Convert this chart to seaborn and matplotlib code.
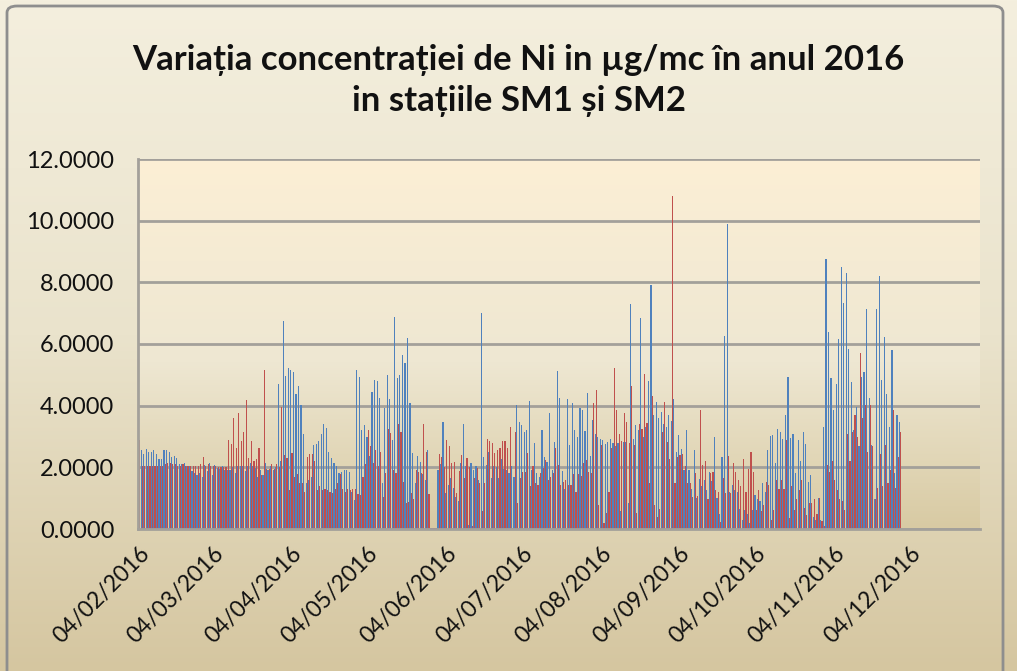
import numpy as np
import pandas as pd
import matplotlib
matplotlib.use('Agg')
import matplotlib.pyplot as plt
import matplotlib.dates as mdates
from matplotlib.colors import LinearSegmentedColormap
from matplotlib.patches import FancyBboxPatch
import seaborn as sns

# Daily Ni concentration (ug/mc), first day 04/02/2016
START_DATE = '2016-02-04'
AXIS_END = '2016-12-31'

SM1 = [
    2.5, 2.57, 2.44, 2.6, 2.51, 2.51, 2.55, 2.44, 2.26, 2.26,
    2.55, 2.55, 2.5, 2.35, 2.38, 2.3, 2.1, 2.1, 2.15, 2.05,
    2.05, 1.88, 1.83, 1.75, 1.83, 1.7, 2.08, 1.88, 2.13, 1.75,
    2.08, 1.98, 1.95, 2.03, 1.92, 1.9, 1.92, 2.0, 1.83, 2.03,
    2.05, 2.03, 1.88, 2.03, 2.13, 2.03, 1.97, 1.7, 1.9, 1.75,
    2.13, 1.9, 2.05, 1.9, 2.0, 4.71, 2.2, 6.74, 4.95, 5.22,
    5.17, 5.08, 4.39, 4.63, 4.03, 3.09, 1.5, 1.6, 1.7, 2.72,
    2.76, 2.84, 3.09, 3.41, 3.26, 2.51, 2.3, 2.13, 2.03, 1.81,
    1.86, 1.92, 1.9, 1.86, 1.2, 0.94, 5.17, 4.93, 3.22, 3.37,
    2.98, 2.37, 4.43, 4.84, 4.79, 4.26, 1.5, 3.92, 5.0, 4.21,
    2.89, 6.88, 4.89, 4.99, 5.63, 5.38, 6.21, 4.08, 2.46, 1.5,
    2.37, 2.17, 1.8, 1.6, 2.55, 0.04, 0.04, 0.04, 1.9, 2.1,
    3.46, 1.18, 1.43, 1.65, 1.34, 1.05, 0.9, 2.13, 3.41, 2.05,
    0.13, 2.13, 1.9, 2.05, 1.6, 7.0, 2.33, 2.08, 2.51, 1.65,
    2.03, 2.0, 1.65, 2.26, 1.94, 1.92, 1.81, 2.03, 1.7, 4.03,
    3.46, 3.38, 3.13, 3.2, 4.14, 1.9, 2.78, 1.81, 1.7, 3.22,
    2.33, 2.16, 3.76, 1.9, 2.83, 5.14, 4.25, 1.88, 1.29, 4.21,
    2.72, 4.08, 3.22, 2.98, 3.92, 3.87, 3.19, 4.41, 2.37, 3.54,
    3.09, 2.98, 2.91, 2.89, 2.75, 2.83, 2.91, 2.78, 2.7, 2.78,
    0.58, 2.83, 2.83, 0.83, 7.3, 2.91, 3.37, 3.2, 6.85, 3.0,
    3.3, 4.8, 7.9, 3.7, 4.13, 3.6, 3.8, 3.4, 3.3, 3.7,
    3.5, 4.21, 2.5, 3.04, 2.6, 1.9, 3.22, 1.92, 1.29, 2.57,
    1.0, 1.61, 1.4, 1.6, 1.27, 1.84, 1.55, 2.98, 1.0, 0.5,
    2.35, 6.25, 9.88, 1.2, 1.43, 1.27, 1.2, 0.64, 0.3, 0.62,
    0.5, 0.21, 0.62, 1.1, 0.98, 0.91, 1.48, 1.2, 2.57, 3.02,
    3.04, 2.13, 3.24, 3.16, 2.91, 3.7, 4.92, 2.95, 3.09, 1.81,
    2.89, 2.19, 3.13, 2.76, 1.54, 1.75, 0.4, 0.3, 1.0, 0.3,
    3.3, 8.77, 6.38, 4.89, 3.87, 4.71, 6.16, 8.5, 7.33, 8.29,
    5.84, 4.76, 3.22, 3.95, 2.68, 4.93, 5.08, 7.14, 4.26, 2.73,
    0.96, 7.14, 8.22, 4.82, 6.22, 4.39, 3.3, 5.82, 1.83, 3.7,
    3.46,
]

SM2 = [
    2.9, 2.05, 2.05, 2.05, 2.05, 2.05, 2.05, 2.05, 2.05, 2.05,
    2.1, 2.15, 2.15, 2.1, 2.1, 2.05, 2.05, 2.1, 2.05, 2.05,
    2.05, 2.05, 2.05, 2.05, 2.1, 2.35, 2.05, 2.1, 2.05, 2.05,
    2.05, 2.0, 2.0, 2.0, 2.0, 2.9, 2.76, 3.6, 2.64, 3.76,
    2.84, 3.13, 4.2, 2.3, 2.84, 2.2, 2.26, 2.62, 1.75, 5.17,
    1.95, 1.93, 2.1, 1.93, 2.1, 2.0, 3.95, 2.4, 2.3, 1.27,
    2.46, 1.7, 1.8, 1.48, 1.5, 1.2, 2.33, 2.44, 2.44, 2.19,
    1.27, 1.38, 1.27, 1.3, 1.25, 1.21, 1.16, 1.29, 1.48, 1.79,
    1.29, 1.21, 1.3, 1.27, 1.29, 1.3, 1.13, 1.1, 1.7, 2.11,
    3.22, 2.7, 2.13, 2.57, 2.05, 2.51, 1.05, 1.81, 3.24, 3.11,
    1.92, 1.83, 3.41, 3.16, 1.54, 0.83, 0.89, 1.16, 0.96, 1.92,
    1.86, 1.83, 3.41, 2.51, 1.13, 0.04, 0.04, 0.04, 2.44, 2.35,
    2.0, 2.89, 2.68, 2.13, 2.17, 1.16, 1.88, 2.4, 1.65, 2.3,
    2.0, 0.1, 1.65, 1.97, 1.5, 0.58, 1.48, 2.91, 2.87, 2.78,
    2.46, 2.55, 2.62, 2.84, 2.84, 2.62, 3.3, 0.04, 3.13, 0.83,
    1.65, 1.86, 1.86, 2.48, 1.38, 2.05, 1.48, 1.43, 1.83, 1.97,
    2.24, 1.6, 1.7, 1.81, 2.62, 2.08, 1.43, 1.54, 1.6, 1.43,
    1.43, 1.79, 1.21, 1.79, 1.72, 2.13, 2.24, 1.86, 1.81, 4.08,
    4.52, 0.78, 2.73, 0.21, 0.51, 1.21, 2.62, 5.22, 3.85, 3.09,
    2.84, 3.76, 3.46, 2.8, 4.63, 2.73, 0.51, 3.41, 3.24, 5.04,
    3.43, 1.48, 4.3, 0.78, 0.4, 0.64, 3.13, 4.13, 2.83, 2.26,
    10.8, 1.5, 2.33, 2.4, 2.44, 2.03, 1.48, 1.5, 1.05, 1.83,
    1.07, 3.85, 2.08, 2.19, 0.96, 1.81, 1.86, 1.27, 1.21, 0.24,
    1.65, 1.16, 2.37, 1.18, 2.13, 1.86, 1.6, 1.4, 2.26, 1.21,
    1.95, 2.51, 1.86, 0.62, 1.27, 0.6, 0.78, 1.54, 1.43, 0.3,
    0.62, 1.6, 1.29, 1.6, 1.29, 2.89, 0.35, 1.38, 0.62, 0.96,
    1.25, 1.6, 0.67, 0.45, 0.83, 0.83, 0.96, 0.5, 1.0, 0.26,
    0.1, 2.08, 1.86, 2.19, 1.6, 1.27, 0.96, 0.91, 0.62, 3.09,
    2.19, 3.16, 3.7, 2.98, 5.71, 3.6, 4.03, 2.51, 4.03, 2.68,
    0.96, 1.34, 2.44, 1.38, 2.73, 1.48, 1.92, 3.87, 1.34, 2.35,
    3.13,
]

TITLE_1 = 'Variația concentrației de Ni in µg/mc în anul 2016'
TITLE_2 = 'in stațiile SM1 și SM2'
COLORS = {'SM1': '#4F81BD', 'SM2': '#C0504D'}

sns.set_style('white')
plt.rcParams['font.family'] = ['Lato', 'DejaVu Sans']

# long-form table for seaborn
dates = pd.date_range(START_DATE, periods=len(SM1), freq='D')
day_num = mdates.date2num(dates)
df = pd.DataFrame({
    'day': np.concatenate([day_num, day_num]),
    'value': SM1 + SM2,
    'station': ['SM1'] * len(SM1) + ['SM2'] * len(SM2),
})

fig = plt.figure(figsize=(10.17, 6.71), dpi=100)

# chart area gradient background
bg = fig.add_axes([0, 0, 1, 1], zorder=0)
outer_cmap = LinearSegmentedColormap.from_list(
    'outer', [(0, '#D5C6A0'), (0.5, '#EAE3CC'), (1, '#F4EFDE')])
bg.imshow(np.linspace(0, 1, 256).reshape(-1, 1), cmap=outer_cmap, origin='lower',
          aspect='auto', extent=[0, 1, 0, 1])
bg.set_xlim(0, 1)
bg.set_ylim(0, 1)
bg.axis('off')
bg.add_patch(FancyBboxPatch((7 / 1017, -0.02), (1003 - 7) / 1017, 1.02 - 6 / 671,
                            boxstyle='round,pad=0,rounding_size=0.01',
                            fill=False, edgecolor='#8E8E8E', linewidth=2,
                            transform=bg.transAxes))

# plot area position (pixels -> figure fraction)
left, right, top, bottom = 138 / 1017, 980 / 1017, 1 - 159 / 671, 1 - 529 / 671
rect = [left, bottom, right - left, top - bottom]

pa = fig.add_axes(rect, zorder=1)
plot_cmap = LinearSegmentedColormap.from_list(
    'plot', [(0, '#D8CAA3'), (0.45, '#EEE7D2'), (1, '#FCEFD5')])
pa.imshow(np.linspace(0, 1, 256).reshape(-1, 1), cmap=plot_cmap, origin='lower',
          aspect='auto', extent=[0, 1, 0, 1])
pa.axis('off')

ax = fig.add_axes(rect, zorder=2)
ax.patch.set_alpha(0)
sns.barplot(data=df, x='day', y='value', hue='station', native_scale=True,
            palette=COLORS, width=0.9, dodge=True, saturation=1, errorbar=None,
            legend=False, linewidth=0, ax=ax)

ax.set_xlim(mdates.date2num(pd.Timestamp(START_DATE)) - 0.5,
            mdates.date2num(pd.Timestamp(AXIS_END)) + 0.5)
ax.set_ylim(0, 12)
ax.set_yticks(np.arange(0, 12.1, 2))
ax.yaxis.set_major_formatter(plt.FuncFormatter(lambda v, p: f'{v:.4f}'))
ax.xaxis.set_major_locator(mdates.MonthLocator(bymonthday=4))
ax.xaxis.set_major_formatter(mdates.DateFormatter('%d/%m/%Y'))
ax.set_xlabel('')
ax.set_ylabel('')

ax.yaxis.grid(True, color='#A3A09A', linewidth=2)
ax.set_axisbelow(True)
for side in ['top', 'right']:
    ax.spines[side].set_visible(False)
for side in ['left', 'bottom']:
    ax.spines[side].set_color('#A3A09A')
    ax.spines[side].set_linewidth(2)

ax.tick_params(axis='y', length=0, pad=17, labelsize=17, labelcolor='#111111')
ax.tick_params(axis='x', length=0, pad=10, labelsize=16.5, labelcolor='#111111')
plt.setp(ax.get_xticklabels(), rotation=45, ha='right', rotation_mode='anchor')

fig.text(0.51, 1 - 60 / 671, TITLE_1, ha='center', va='center',
         fontsize=25, fontweight='bold', color='#111111')
fig.text(0.51, 1 - 101 / 671, TITLE_2, ha='center', va='center',
         fontsize=25, fontweight='bold', color='#111111')

fig.savefig('out.png', dpi=100)
